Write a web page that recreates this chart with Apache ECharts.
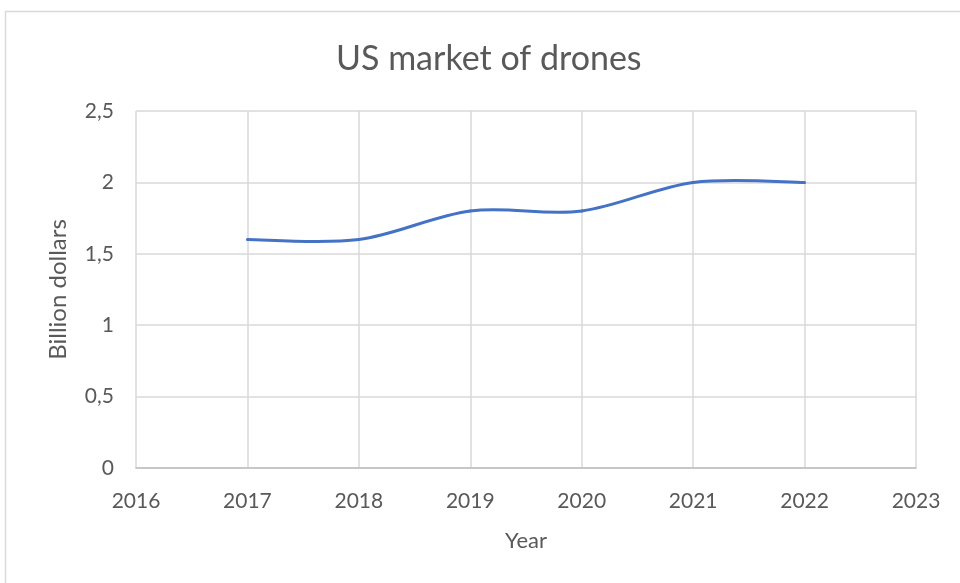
<!DOCTYPE html>
<html><head><meta charset="utf-8">
<script src="https://cdn.jsdelivr.net/npm/echarts@6/dist/echarts.min.js"></script>
<style>html,body{margin:0;padding:0;background:#fff}#c{width:960px;height:583px}</style>
</head><body><div id="c"></div>
<script>
const years = [2017, 2018, 2019, 2020, 2021, 2022];
const values = [1.6, 1.6, 1.8, 1.8, 2.0, 2.0];
const titleText = 'US market of drones';
const xName = 'Year';
const yName = 'Billion dollars';

const chart = echarts.init(document.getElementById('c'));
const font = 'Lato, "Open Sans", sans-serif';

// Excel-style smoothed line: cubic Bezier segments with Catmull-Rom tangents (1/6),
// positioned through the chart's own axes via api.coord.
function renderSegment(params, api) {
  const i = params.dataIndex;
  const n = years.length;
  if (i >= n - 1) return null;
  const pt = j => api.coord([years[Math.max(0, Math.min(n - 1, j))], values[Math.max(0, Math.min(n - 1, j))]]);
  const p0 = pt(i - 1), p1 = pt(i), p2 = pt(i + 1), p3 = pt(i + 2);
  return {
    type: 'bezierCurve',
    shape: {
      x1: p1[0], y1: p1[1], x2: p2[0], y2: p2[1],
      cpx1: p1[0] + (p2[0] - p0[0]) / 6, cpy1: p1[1] + (p2[1] - p0[1]) / 6,
      cpx2: p2[0] - (p3[0] - p1[0]) / 6, cpy2: p2[1] - (p3[1] - p1[1]) / 6
    },
    style: {fill: null, stroke: '#4472C4', lineWidth: 3, lineCap: 'round'}
  };
}

chart.setOption({
  animation: false,
  textStyle: {fontFamily: font},
  title: {text: titleText, left: 331, top: 37,
    textStyle: {fontFamily: font, fontSize: 34, fontWeight: 'normal', color: '#595959'}},
  graphic: [{type: 'rect', shape: {x: 5.5, y: 11.5, width: 1200, height: 1200},
    style: {fill: 'none', stroke: '#d9d9d9', lineWidth: 1.5}, silent: true}],
  grid: {left: 136, right: 44, top: 111, bottom: 115, containLabel: false},
  xAxis: {type: 'value', min: 2016, max: 2023, interval: 1,
    name: xName, nameLocation: 'middle', nameGap: 62,
    nameTextStyle: {fontSize: 22, color: '#595959', fontFamily: font},
    axisLine: {show: true, lineStyle: {color: '#bfbfbf', width: 1.5}},
    axisTick: {show: false},
    axisLabel: {fontSize: 21, color: '#595959', margin: 23, fontFamily: font,
      formatter: v => String(v)},
    splitLine: {show: true, lineStyle: {color: '#d9d9d9', width: 1.5}}},
  yAxis: {type: 'value', min: 0, max: 2.5, interval: 0.5,
    name: yName, nameLocation: 'middle', nameGap: 66, nameRotate: 90,
    nameTextStyle: {fontSize: 24, color: '#595959', fontFamily: font},
    axisLine: {show: false}, axisTick: {show: false},
    axisLabel: {fontSize: 21, color: '#595959', margin: 22, fontFamily: font,
      formatter: v => String(v).replace('.', ',')},
    splitLine: {show: true, lineStyle: {color: '#d9d9d9', width: 1.5}}},
  series: [{type: 'custom', renderItem: renderSegment,
    data: years.map((y, i) => [y, values[i]]),
    encode: {x: 0, y: 1}, clip: false, silent: true}]
});
</script></body></html>
